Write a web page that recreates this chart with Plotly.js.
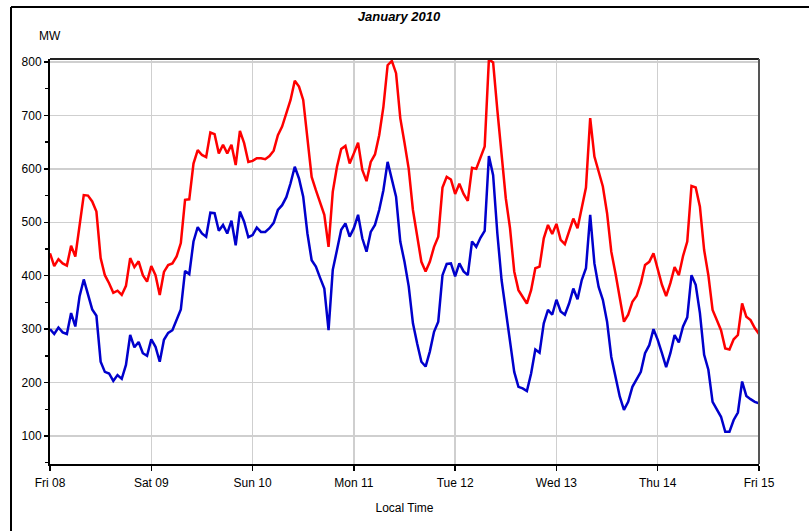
<!DOCTYPE html>
<html>
<head>
<meta charset="utf-8">
<script src="https://cdn.plot.ly/plotly-3.0.1.min.js"></script>
<style>
html,body{margin:0;padding:0;background:#fff;}
#chart{width:809px;height:531px;}
</style>
</head>
<body>
<div id="chart"></div>
<script>
// Hourly values, Fri 08 00:00 -> Fri 15 00:00 (169 points)
const startDay = "2010-01-08";
const redSeries = [
  442,418,431,423,419,456,436,498,551,550,539,520,433,401,386,368,372,364,381,433,416,427,401,389,
  418,401,364,407,420,423,436,461,542,543,610,635,626,622,668,665,629,645,629,645,607,671,648,613,
  615,620,620,618,624,634,663,679,705,729,765,754,729,654,585,560,537,514,454,557,604,637,643,610,
  629,649,598,577,613,627,663,716,794,802,779,695,649,600,523,473,426,408,426,454,473,565,585,580,
  553,572,553,540,602,600,620,642,805,799,710,620,545,489,408,373,361,348,373,414,417,470,495,478,
  497,467,459,481,507,489,526,565,695,623,595,567,517,445,404,355,314,327,351,362,386,420,426,442,
  414,383,362,386,416,401,437,464,568,565,529,448,401,336,317,298,264,262,281,289,348,323,317,302,
  291
];
const blueSeries = [
  300,291,303,294,291,330,305,361,393,364,337,325,239,220,217,203,214,207,233,289,266,276,255,250,
  281,267,239,280,293,298,317,337,409,403,464,491,479,473,518,517,484,495,479,503,457,520,501,472,
  476,490,482,482,489,499,523,532,547,573,604,582,548,479,429,417,396,376,298,411,448,486,498,473,
  489,514,470,445,482,495,523,560,613,582,548,464,426,380,311,273,239,230,258,295,314,401,422,423,
  399,423,408,401,464,454,471,484,624,588,479,392,336,286,220,192,189,184,217,262,256,311,336,327,
  355,333,327,348,376,356,392,414,514,423,379,355,314,248,208,174,149,164,192,205,220,255,270,300,
  280,255,229,255,289,275,305,322,401,383,330,252,224,164,149,136,108,108,130,144,202,175,169,164,
  161
];
const dayTicks = ["2010-01-08","2010-01-09","2010-01-10","2010-01-11","2010-01-12","2010-01-13","2010-01-14","2010-01-15"];
const dayLabels = ["Fri 08","Sat 09","Sun 10","Mon 11","Tue 12","Wed 13","Thu 14","Fri 15"];
const yTicks = [100,200,300,400,500,600,700,800];

function pad(n){return (n<10?"0":"")+n;}
const times = redSeries.map(function(_, i){
  const d = new Date(Date.UTC(2010,0,8) + i*3600000);
  return d.getUTCFullYear()+"-"+pad(d.getUTCMonth()+1)+"-"+pad(d.getUTCDate())+" "+pad(d.getUTCHours())+":00";
});

const FONT = "Liberation Sans, Arial, sans-serif";

const traces = [
  {x: times, y: blueSeries, type: "scatter", mode: "lines",
   line: {color: "#0000cc", width: 2.5}, hoverinfo: "skip", showlegend: false},
  {x: times, y: redSeries, type: "scatter", mode: "lines",
   line: {color: "#ff0000", width: 2.5}, hoverinfo: "skip", showlegend: false}
];

const layout = {
  width: 809, height: 531,
  margin: {l: 50, r: 50, t: 59, b: 67, pad: 0},
  paper_bgcolor: "#ffffff", plot_bgcolor: "#ffffff",
  font: {family: FONT, size: 12, color: "#000"},
  title: {text: "<b><i>January 2010</i></b>", font: {family: FONT, size: 13, color: "#000"},
          x: 399/809, xref: "container", xanchor: "center",
          y: 1 - 16/531, yref: "container", yanchor: "middle"},
  xaxis: {
    type: "date",
    range: [dayTicks[0], dayTicks[dayTicks.length-1]],
    tickmode: "array", tickvals: dayTicks, ticktext: dayLabels,
    showgrid: true, gridcolor: "#cfcfcf", gridwidth: 1.5,
    showline: true, linecolor: "#000", linewidth: 2,
    ticks: "outside", ticklen: 5, tickwidth: 1.5, tickcolor: "#000",
    ticklabelstandoff: 2,
    tickfont: {family: FONT, size: 12, color: "#000"},
    zeroline: false,
    title: {text: "Local Time", font: {family: FONT, size: 12, color: "#000"}, standoff: 14}
  },
  yaxis: {
    range: [47.6, 805.6],
    tickmode: "array", tickvals: yTicks,
    showgrid: true, gridcolor: "#cfcfcf", gridwidth: 1.5,
    showline: true, linecolor: "#000", linewidth: 2,
    ticks: "outside", ticklen: 4, tickwidth: 1.5, tickcolor: "#000",
    tickfont: {family: FONT, size: 12, color: "#000"},
    zeroline: false,
    minor: {tickmode: "array", tickvals: [50,150,250,350,450,550,650,750], ticks: "outside", ticklen: 3, tickcolor: "#000", tickwidth: 1.5, showgrid: false}
  },
  annotations: [
    {text: "MW", xref: "paper", yref: "paper", x: 0, y: 1 + 22.5/405,
     xanchor: "center", yanchor: "middle", showarrow: false,
     font: {family: FONT, size: 12, color: "#000"}}
  ],
  shapes: [
    {type: "line", xref: "paper", yref: "paper", x0: 0, x1: 1, y0: 1, y1: 1, line: {color: "#222", width: 2}},
    {type: "line", xref: "paper", yref: "paper", x0: 1, x1: 1, y0: 0, y1: 1, line: {color: "#555", width: 2}},
    {type: "line", xref: "paper", yref: "paper", x0: -39/709, x1: 1.2, y0: 1 + 52/405, y1: 1 + 52/405, line: {color: "#000", width: 2}},
    {type: "line", xref: "paper", yref: "paper", x0: -39/709, x1: -39/709, y0: 1 + 52/405, y1: -0.3, line: {color: "#000", width: 2}}
  ]
};

Plotly.newPlot("chart", traces, layout, {displayModeBar: false, staticPlot: true});
</script>
</body>
</html>
